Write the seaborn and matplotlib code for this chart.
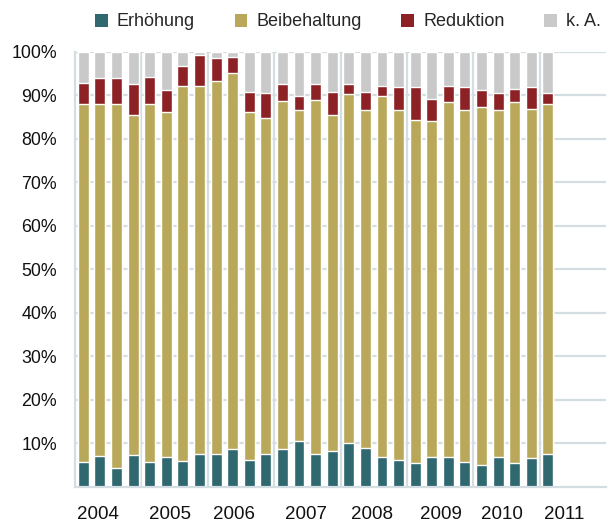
import matplotlib.pyplot as plt
import numpy as np
import pandas as pd
import seaborn as sns
from matplotlib.patches import Patch

# quarterly periods 2004 Q1 .. 2011 Q1
periods = [f"{y}Q{q}" for y in range(2004, 2011) for q in range(1, 5)] + ["2011Q1"]
years = ['2004', '2005', '2006', '2007', '2008', '2009', '2010', '2011']

# shares in percent
erhoehung = [5.6, 7.0, 4.3, 7.2, 5.6, 6.8, 5.9, 7.5, 7.5, 8.6,
             6.1, 7.5, 8.6, 10.4, 7.5, 8.2, 10.0, 8.9, 6.8, 6.1,
             5.4, 6.8, 6.8, 5.6, 4.9, 6.8, 5.4, 6.5, 7.5]
beibehaltung = [82.3, 80.9, 83.6, 78.2, 82.3, 79.3, 86.2, 84.6, 85.7, 86.5,
                80.0, 77.2, 80.0, 76.2, 81.4, 77.2, 80.2, 77.7, 83.0, 80.5,
                78.9, 77.2, 81.6, 81.0, 82.3, 79.8, 83.0, 80.3, 80.4]
reduktion = [4.9, 6.0, 6.0, 7.1, 6.2, 5.0, 4.6, 7.1, 5.3, 3.6,
             4.6, 5.8, 3.9, 3.2, 3.6, 5.3, 2.3, 4.1, 2.3, 5.2,
             7.5, 5.1, 3.7, 5.2, 3.9, 3.9, 3.0, 5.0, 2.6]
keine_angabe = [7.2, 6.1, 6.1, 7.5, 5.9, 8.9, 3.3, 0.8, 1.5, 1.3,
                9.3, 9.5, 7.5, 10.2, 7.5, 9.3, 7.5, 9.3, 7.9, 8.2,
                8.2, 10.9, 7.9, 8.2, 8.9, 9.5, 8.6, 8.2, 9.5]

series = ['Erhöhung', 'Beibehaltung', 'Reduktion', 'k. A.']
colors = ['#306870', '#BAA85A', '#8C2226', '#C9C9C9']

df = pd.DataFrame({'period': periods, 'Erhöhung': erhoehung, 'Beibehaltung': beibehaltung,
                   'Reduktion': reduktion, 'k. A.': keine_angabe})
cum = df[series].cumsum(axis=1)

sns.set_style('white')
plt.rcParams['font.family'] = ['Liberation Sans', 'DejaVu Sans']

fig = plt.figure(figsize=(6.08, 5.22), dpi=100)
ax = fig.add_axes([75 / 608, 35.5 / 522, 531 / 608, 434.8 / 522])

grid_col = '#D3DDE2'
for y in range(10, 101, 10):
    ax.axhline(y, color=grid_col, lw=1.6, zorder=0)
for x in np.arange(3.5, 28, 4):
    ax.axvline(x, color=grid_col, lw=1.6, zorder=0)

# stacked bars: draw cumulative totals from top to bottom
for name, col in zip(series[::-1], colors[::-1]):
    sns.barplot(x=df['period'], y=cum[name], color=col, saturation=1,
                width=0.66, order=periods, ax=ax, zorder=2)

ax.set_xlim(-0.5, 31.5)
ax.set_ylim(0, 100)
ax.set_yticks(range(10, 101, 10))
ax.set_yticklabels([f"{v}%" for v in range(10, 101, 10)], fontsize=12.8, color='#111111')
# year labels sit roughly under each year's bars (as in the original)
year_pos = [0.86, 5.23, 9.08, 13.42, 17.42, 21.55, 25.25, 28.98]
ax.set_xticks(year_pos)
ax.set_xticklabels(years, fontsize=13.5, color='#111111')
ax.tick_params(axis='y', length=0, pad=13)
ax.tick_params(axis='x', length=0, pad=14)
ax.set_xlabel('')
ax.set_ylabel('')

for s in ['top', 'right']:
    ax.spines[s].set_visible(False)
for s in ['left', 'bottom']:
    ax.spines[s].set_color(grid_col)
    ax.spines[s].set_linewidth(1.6)

handles = [Patch(facecolor=c, edgecolor='none', label=n) for n, c in zip(series, colors)]
fig.legend(handles=handles, loc='center', bbox_to_anchor=(348 / 608, 1 - 22 / 522),
           ncol=4, frameon=False, fontsize=13, handlelength=0.7, handleheight=0.7,
           handletextpad=0.5, columnspacing=2.2)

fig.savefig('out.png', dpi=100)
